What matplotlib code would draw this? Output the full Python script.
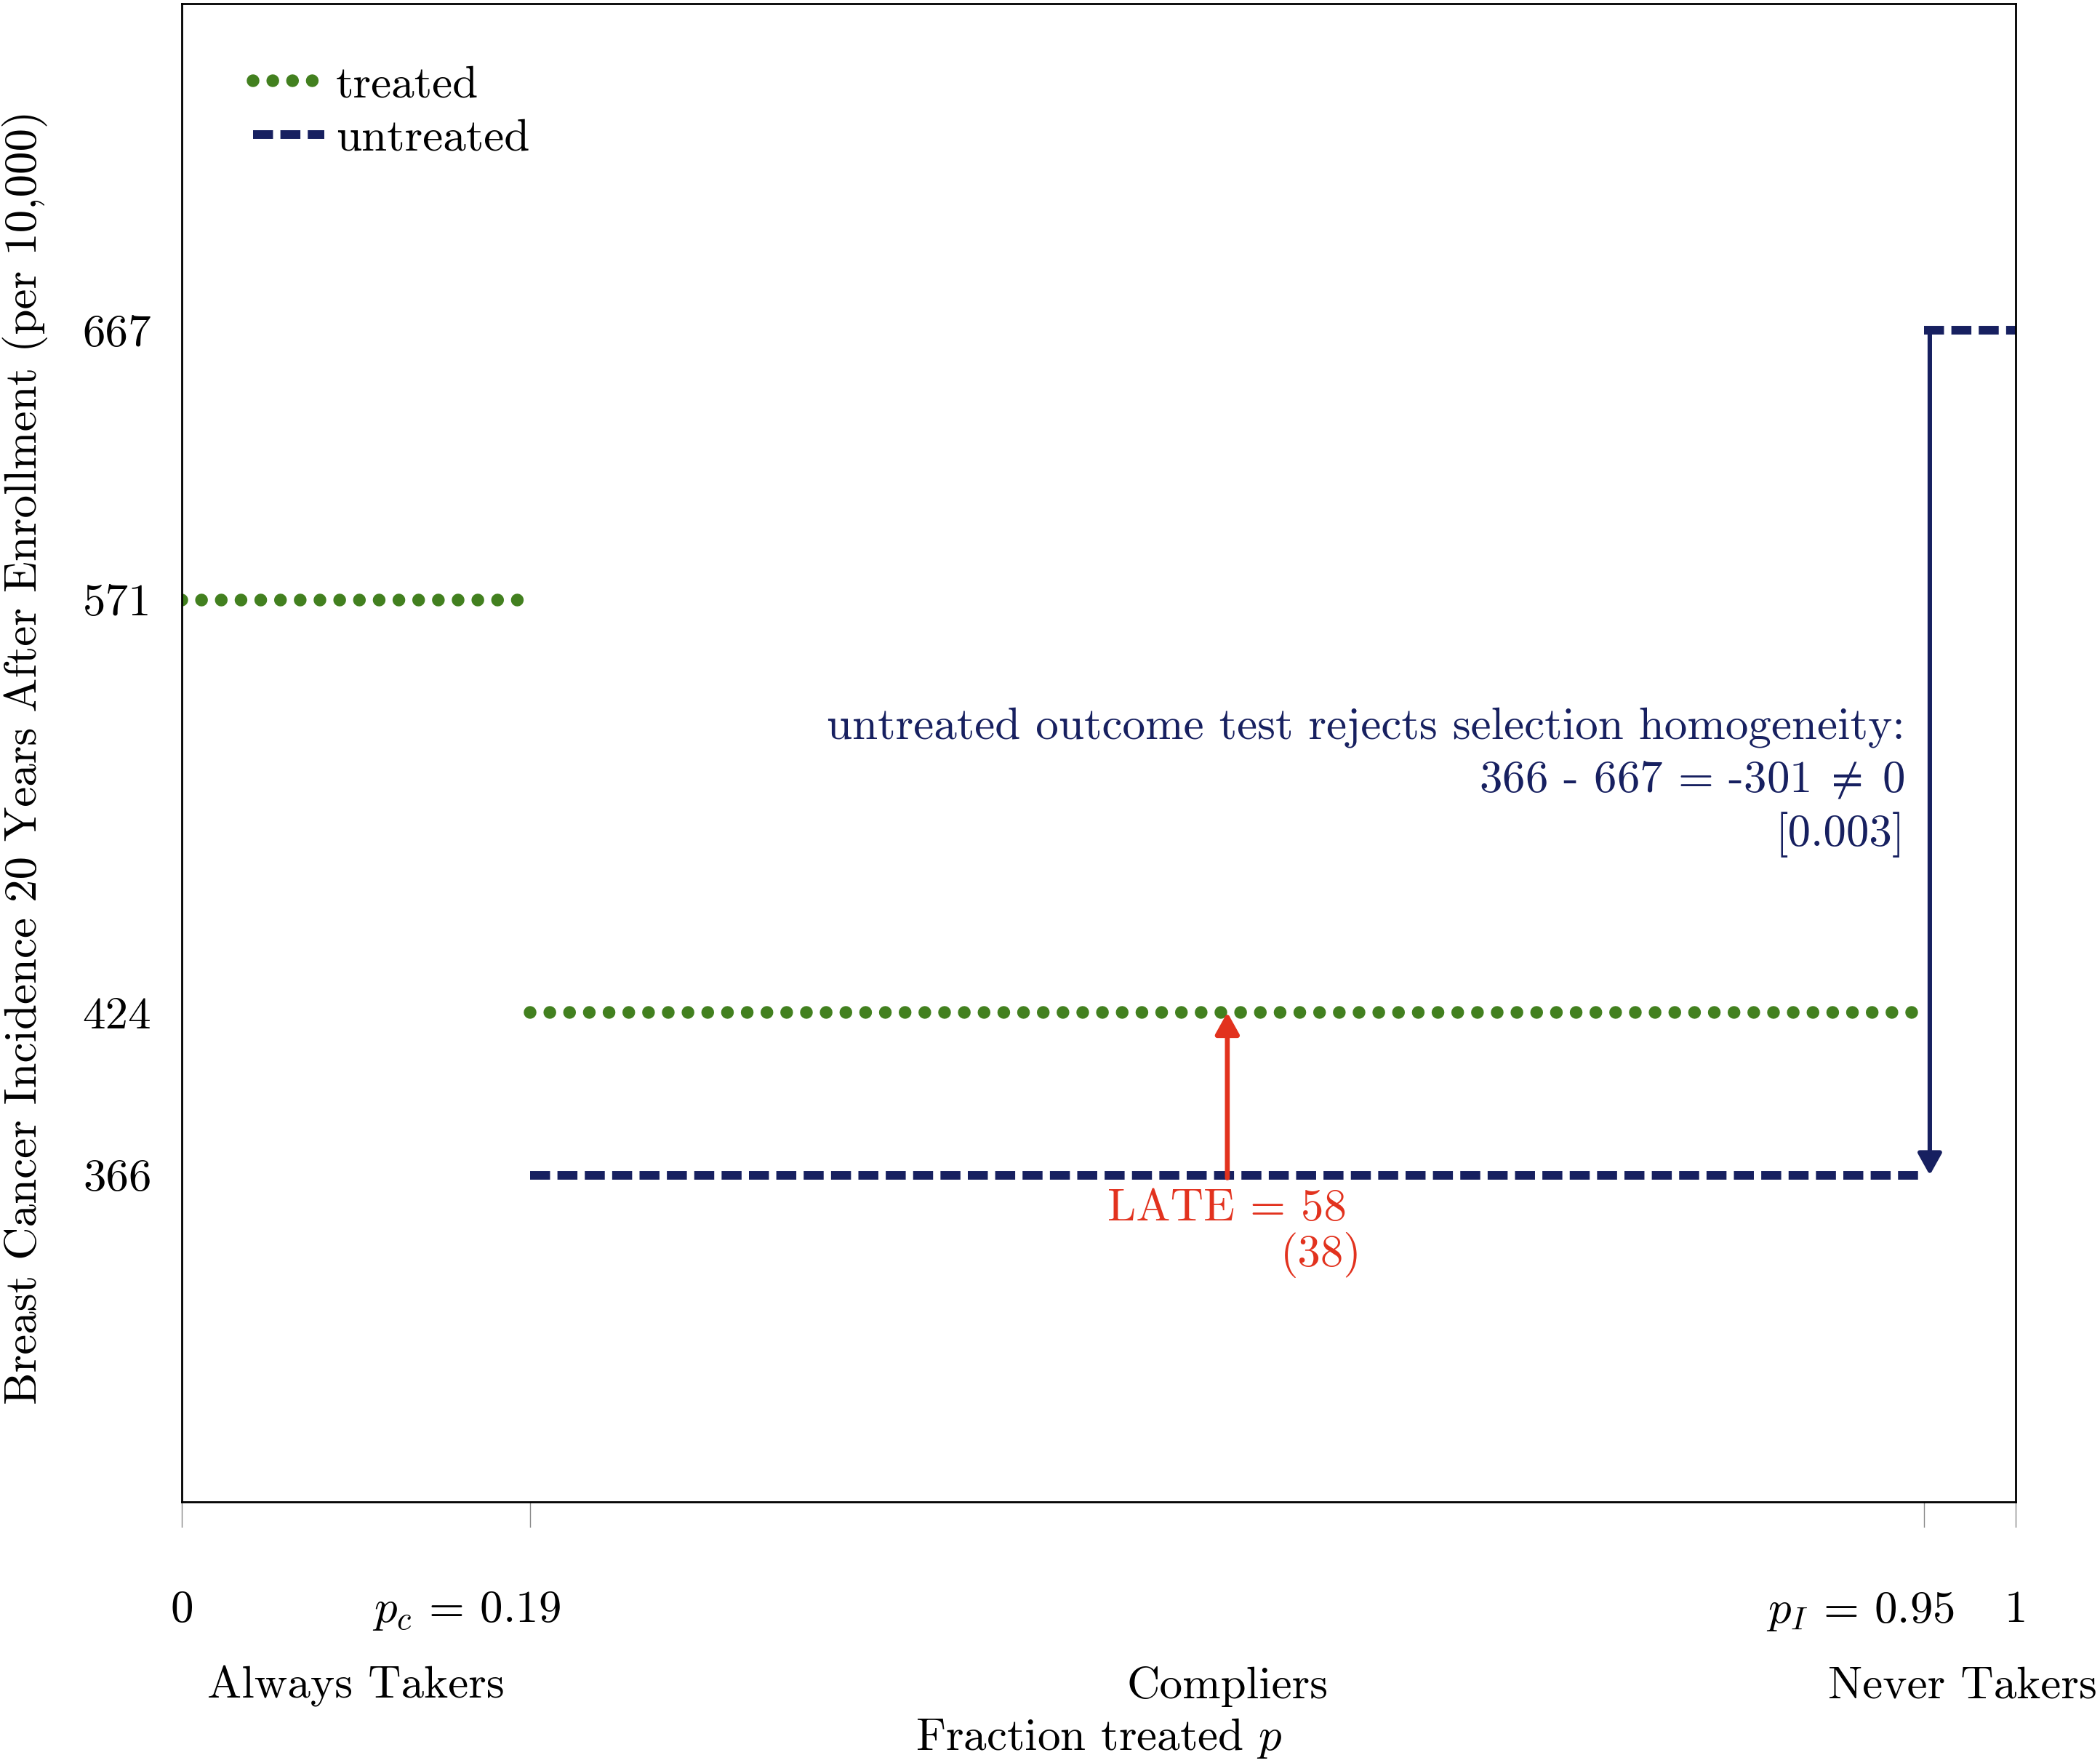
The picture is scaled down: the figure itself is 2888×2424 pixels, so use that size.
import matplotlib

matplotlib.use("Agg")
import matplotlib.pyplot as plt
import matplotlib.transforms as mtransforms

plt.rcParams["font.family"] = "cmr10"
plt.rcParams["mathtext.fontset"] = "cm"
plt.rcParams["axes.formatter.use_mathtext"] = True
plt.rcParams["axes.unicode_minus"] = False

# shares of compliance types
P_C = 0.19
P_I = 0.95

# mean outcomes (per 10,000)
TREATED_X = [[0.0, P_C], [P_C, P_I]]
TREATED_Y = [[571, 571], [424, 424]]
UNTREATED_X = [[P_C, P_I], [P_I, 1.0]]
UNTREATED_Y = [[366, 366], [667, 667]]

LATE = 58
LATE_SE = 38
TEST_PVAL = "0.003"

XTICKS = [0, P_C, P_I, 1]
XTICKLABELS = ["0", r"$p_c$ = 0.19", r"$p_I$ = 0.95", "1"]
YTICKS = [366, 424, 571, 667]
GROUPS = ["Always Takers", "Compliers", "Never Takers"]
GROUP_X = [P_C / 2, (P_C + P_I) / 2, (P_I + 1) / 2]

GREEN = "#42801f"
NAVY = "#172060"
RED = "#e2321e"
FS = 22.7


def main():
    fig = plt.figure(figsize=(14.44, 12.12), dpi=200)
    ax = fig.add_axes([0.0866, 0.148, 0.8734, 0.850])

    dot = dict(color=GREEN, lw=6.3, linestyle=(0, (0.001, 1.55)),
               dash_capstyle="round")
    dash = dict(color=NAVY, lw=4.3, linestyle=(0, (2.3, 0.85)))
    for i, (xs, ys) in enumerate(zip(TREATED_X, TREATED_Y)):
        ax.plot(xs, ys, label="treated" if i == 0 else None, **dot)
    for i, (xs, ys) in enumerate(zip(UNTREATED_X, UNTREATED_Y)):
        ax.plot(xs, ys, label="untreated" if i == 0 else None, **dash)

    y_u0 = UNTREATED_Y[0][0]
    y_u1 = UNTREATED_Y[1][0]
    y_t1 = TREATED_Y[1][0]
    x_mid = GROUP_X[1]

    # LATE arrow
    ax.annotate("", xy=(x_mid, y_t1), xytext=(x_mid, y_u0 - 1),
                arrowprops=dict(arrowstyle="-|>,head_length=0.45,head_width=0.25",
                                color=RED, lw=2.4, mutation_scale=20,
                                shrinkA=0, shrinkB=0))
    ax.text(x_mid, 354, f"LATE = {LATE}", color=RED, fontsize=FS,
            ha="center", va="center")
    ax.text(0.621, 337.5, f"({LATE_SE})", color=RED, fontsize=FS,
            ha="center", va="center")

    # untreated outcome test arrow
    x_t = 0.953
    ax.annotate("", xy=(x_t, y_u0), xytext=(x_t, y_u1),
                arrowprops=dict(arrowstyle="-|>,head_length=0.45,head_width=0.25",
                                color=NAVY, lw=2.2, mutation_scale=20,
                                shrinkA=0, shrinkB=0))
    x_r = 0.9395
    ax.text(x_r, 525.5, "untreated outcome test rejects selection homogeneity:",
            color=NAVY, fontsize=FS, ha="right", va="center")
    ax.text(x_r, 506.5, f"{y_u0} - {y_u1} = -{y_u1 - y_u0}$\\;\\neq\\;$0",
            color=NAVY, fontsize=FS, ha="right", va="center")
    ax.text(x_r, 487.4, f"[{TEST_PVAL}]", color=NAVY, fontsize=FS,
            ha="right", va="center")

    ax.set_xlim(0, 1)
    ax.set_ylim(249.5, 783.5)

    ax.set_yticks(YTICKS)
    ax.set_yticklabels([str(v) for v in YTICKS])
    ax.tick_params(axis="y", length=0, pad=15, labelsize=FS)

    ax.set_xticks(XTICKS)
    ax.set_xticklabels(XTICKLABELS)
    ax.tick_params(axis="x", length=12.6, width=0.5, color="#888888",
                   pad=31, labelsize=FS)
    shift = mtransforms.ScaledTranslation(15 / 72, 0, fig.dpi_scale_trans)
    for lab in ax.get_xticklabels()[1:3]:
        lab.set_horizontalalignment("right")
        lab.set_transform(lab.get_transform() + shift)

    for sp in ax.spines.values():
        sp.set_linewidth(1.0)
        sp.set_color("black")

    trans = mtransforms.blended_transform_factory(ax.transData, ax.transAxes)
    for gx, g in zip(GROUP_X, GROUPS):
        gx = min(gx, 0.971)
        ax.text(gx, -0.123, g, transform=trans, fontsize=FS,
                ha="center", va="center")

    ax.set_xlabel("Fraction treated $p$", fontsize=FS)
    ax.xaxis.set_label_coords(0.5, -0.143)
    ax.set_ylabel("Breast Cancer Incidence 20 Years After Enrollment (per 10,000)",
                  fontsize=FS)
    ax.yaxis.set_label_coords(-0.073, 0.497)

    ax.legend(loc="upper left", bbox_to_anchor=(0.039, 0.959), frameon=False,
              fontsize=FS, handlelength=1.55, handletextpad=0.25,
              labelspacing=0.27, borderpad=0, borderaxespad=0)

    fig.savefig("out.png", dpi=200)


if __name__ == "__main__":
    main()
